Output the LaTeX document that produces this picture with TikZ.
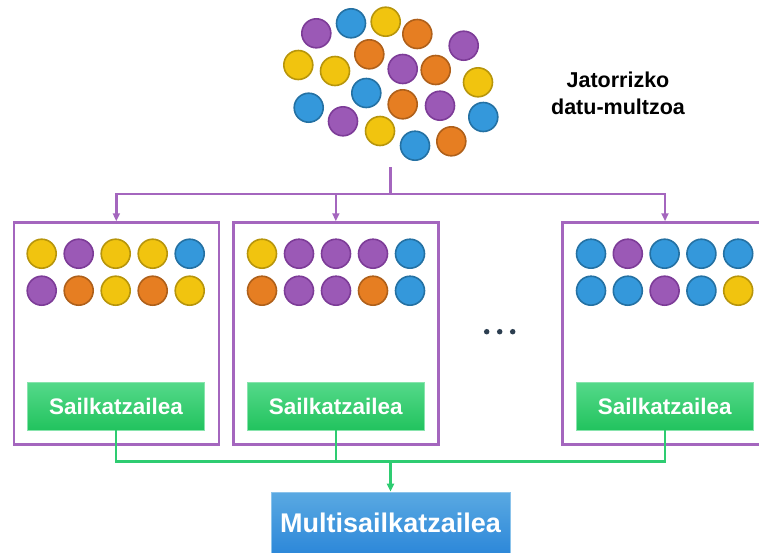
\documentclass[tikz,border=0pt]{standalone}
\usepackage{fontspec}
\setmainfont{Liberation Sans}
\usetikzlibrary{arrows.meta}
\definecolor{puF}{HTML}{9B59B6}\definecolor{puD}{HTML}{7D3C98}
\definecolor{blF}{HTML}{3498DB}\definecolor{blD}{HTML}{2471A3}
\definecolor{yeF}{HTML}{F1C40F}\definecolor{yeD}{HTML}{B7950B}
\definecolor{orF}{HTML}{E67E22}\definecolor{orD}{HTML}{AF601A}
\definecolor{boxP}{HTML}{A466BE}
\definecolor{gTop}{HTML}{55D98A}\definecolor{gBot}{HTML}{22C35E}
\definecolor{gLine}{HTML}{2ECC71}
\definecolor{bTop}{HTML}{5AA9E2}\definecolor{bBot}{HTML}{2D88D9}
\definecolor{dotC}{HTML}{2C3E50}
\tikzset{
  ball/.style={circle, minimum size=29pt, inner sep=0pt, line width=1.6pt, fill=#1F, draw=#1D},
  setbox/.style={draw=boxP, line width=2.3pt, minimum width=205pt, minimum height=222pt, inner sep=0pt},
  clbox/.style={top color=gTop, bottom color=gBot, draw=gTop!70!white, line width=0.6pt,
     minimum width=177pt, minimum height=48pt, inner sep=0pt, text=white,
     font=\bfseries\fontsize{22.5}{25}\selectfont},
  multbox/.style={top color=bTop, bottom color=bBot, draw=bTop!70!white, line width=0.6pt,
     minimum width=239pt, minimum height=61pt, inner sep=0pt, text=white,
     font=\bfseries\fontsize{27}{30}\selectfont},
  parrow/.style={draw=boxP, line width=2.3pt, -{Triangle[length=8pt,width=7pt]}},
  pline/.style={draw=boxP, line width=2.3pt},
  gline/.style={draw=gLine, line width=2.3pt},
  garrow/.style={draw=gLine, line width=2.3pt, -{Triangle[length=8pt,width=7pt]}},
  dotn/.style={circle, fill=dotC, minimum size=5.5pt, inner sep=0pt},
}
\begin{document}
\begin{tikzpicture}[x=1pt,y=-1pt]
\useasboundingbox (0,0) rectangle (759,552);
\clip (0,0) rectangle (759,552);
% source cluster
\foreach \x/\y/\c [count=\i] in {
 316.3/33.3/pu, 351/23.3/bl, 385.7/21.7/ye, 417.3/34/or, 463.7/45.7/pu,
 298.3/65/ye, 335/71/ye, 369.3/54.3/or, 402.7/69/pu, 435.7/70/or, 478/82.3/ye,
 366.3/93/bl, 308.7/107.7/bl, 343/121.3/pu, 402.7/104.3/or, 440/105.7/pu, 483.3/117/bl,
 380/131/ye, 415/145.7/bl, 451.3/141.3/or}
 \node[ball=\c] (s\i) at (\x,\y) {};
\node[font=\bfseries\fontsize{21.5}{26.7}\selectfont, align=center] (lbl) at (618,93) {Jatorrizko\\datu-multzoa};

% subsets
\node[setbox] (b1) at (116.35,333.4) {};
\node[setbox] (b2) at (335.85,333.4) {};
\node[setbox] (b3) at (665,333.4) {};

\foreach \c [count=\i] in {ye,pu,ye,ye,bl}
  \node[ball=\c] (a1r1c\i) at ({41.7+37*(\i-1)},253.7) {};
\foreach \c [count=\i] in {pu,or,ye,or,ye}
  \node[ball=\c] (a1r2c\i) at ({41.7+37*(\i-1)},290.7) {};
\foreach \c [count=\i] in {ye,pu,pu,pu,bl}
  \node[ball=\c] (a2r1c\i) at ({262+37*(\i-1)},253.7) {};
\foreach \c [count=\i] in {or,pu,pu,or,bl}
  \node[ball=\c] (a2r2c\i) at ({262+37*(\i-1)},290.7) {};
\foreach \c [count=\i] in {bl,pu,bl,bl,bl}
  \node[ball=\c] (a3r1c\i) at ({591+36.8*(\i-1)},253.7) {};
\foreach \c [count=\i] in {bl,bl,pu,bl,ye}
  \node[ball=\c] (a3r2c\i) at ({591+36.8*(\i-1)},290.7) {};

\node[dotn] (d1) at (486.7,331.7) {};
\node[dotn] (d2) at (499.7,331.7) {};
\node[dotn] (d3) at (512.7,331.7) {};

% classifiers
\node[clbox] (g1) at (116,406) {Sailkatzailea};
\node[clbox] (g2) at (335.75,406) {Sailkatzailea};
\node[clbox] (g3) at (664.8,406) {Sailkatzailea};
\node[multbox] (m) at (390.5,522.5) {Multisailkatzailea};

% connectors
\coordinate (src) at (390.5,167);
\coordinate (jn) at (390.5,194);
\coordinate (gj) at (390.5,461.5);
\draw[pline] (src) -- (jn);
\draw[parrow] (jn) -| (b1.north);
\draw[parrow] (jn) -| (b2.north);
\draw[parrow] (jn) -| (b3.north);
\draw[gline] (g1.south) |- (gj);
\draw[gline] (g2.south) |- (gj);
\draw[gline] (g3.south) |- (gj);
\draw[garrow] (gj) -- (m.north);
\end{tikzpicture}
\end{document}
